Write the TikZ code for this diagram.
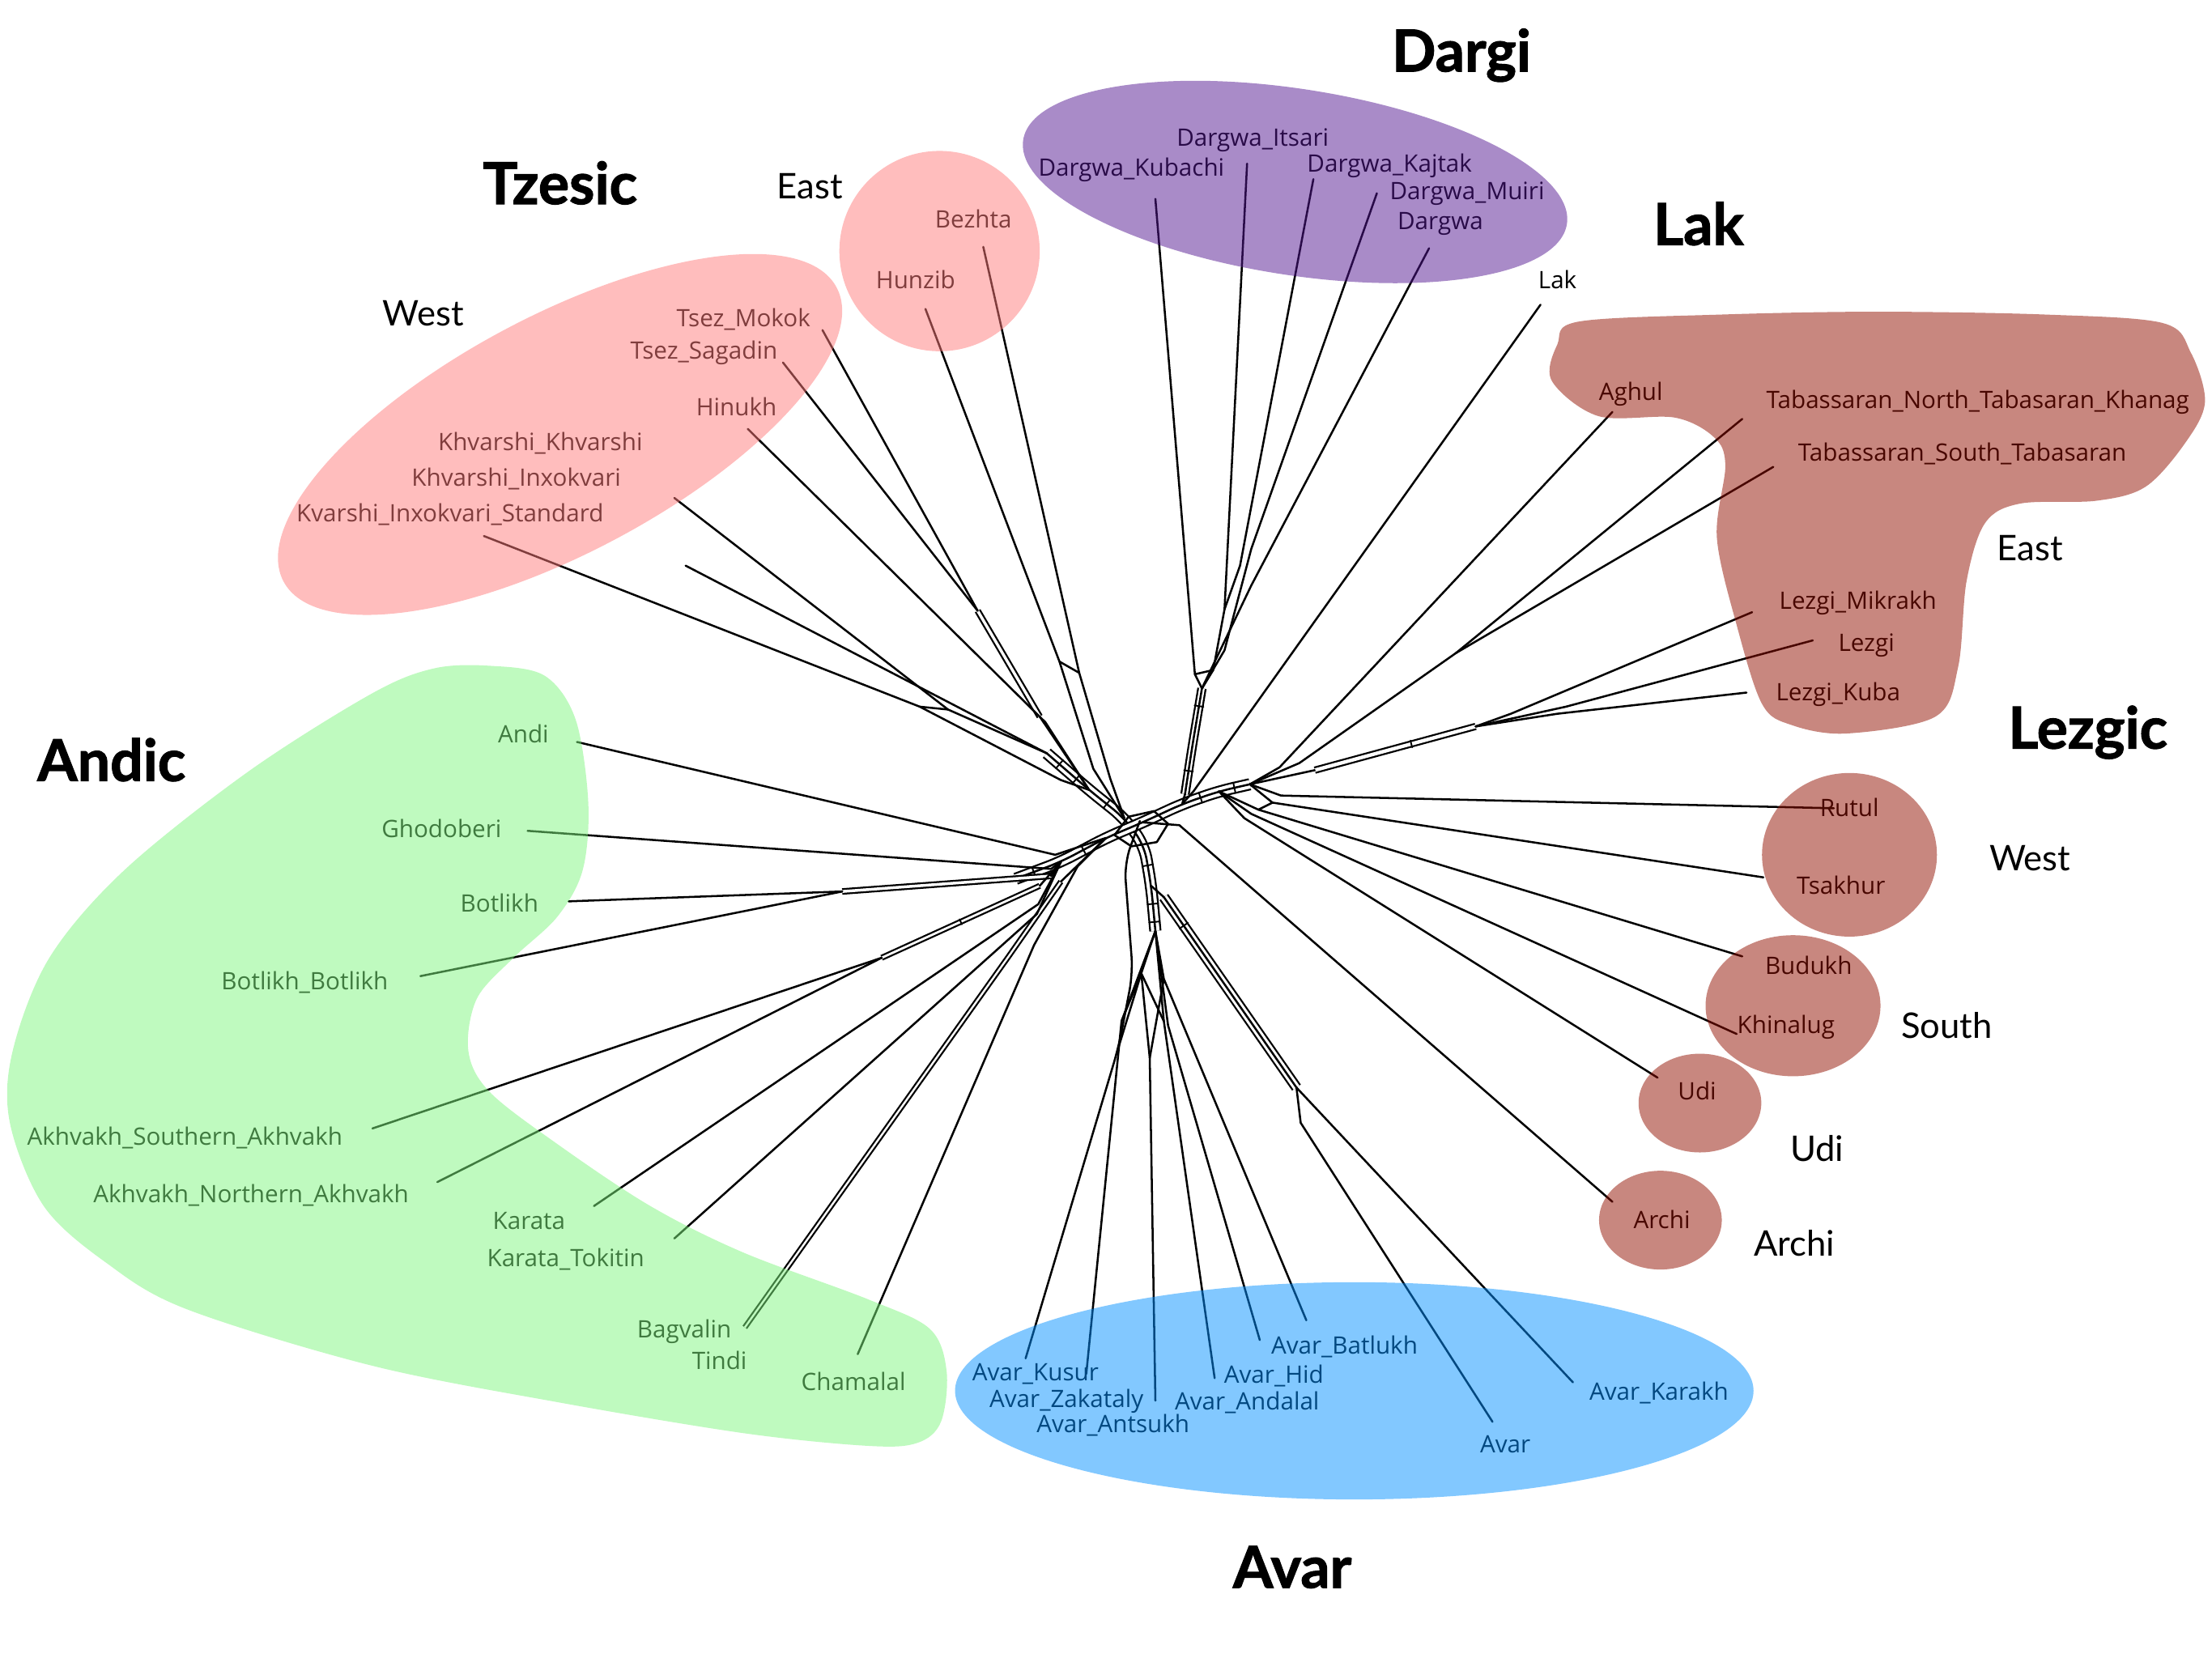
\documentclass[tikz,border=0pt]{standalone}
\usepackage{fontspec}
\setmainfont{Open Sans}
\newfontfamily\hfont{Lato}[BoldFeatures={FakeBold=1.5}]
\usetikzlibrary{calc}
\definecolor{tzF}{RGB}{255,123,123}
\definecolor{daF}{RGB}{83,23,145}
\definecolor{leF}{RGB}{145,15,0}
\definecolor{anF}{RGB}{127,245,127}
\definecolor{avF}{RGB}{5,145,255}
\tikzset{
 net/.style={draw=black, line width=1.45pt, line join=round, line cap=round},
 rib/.style={draw=black, line width=1.3pt, double=white, double distance=#1, line join=round},
 rib/.default=4pt,
 lbl/.style={font=\fontsize{17}{20}\selectfont, inner sep=0pt, anchor=mid, yshift=-4pt},
 grp/.style={font=\hfont\bfseries\fontsize{41}{44}\selectfont, inner sep=0pt, anchor=mid, yshift=-11pt},
 subl/.style={font=\hfont\fontsize{25}{28}\selectfont, inner sep=0pt, anchor=mid, yshift=-6.5pt},
 blob/.style={fill opacity=0.5, draw=none},
}
\newcommand{\rungx}[4]{\draw[net, line width=1.1pt] ($(#1)!#3!(#2)!#4!90:(#2)$) -- ($(#1)!#3!(#2)!#4!-90:(#2)$);}
\begin{document}
\begin{tikzpicture}[x=1pt,y=-1pt]
\useasboundingbox (0,0) rectangle (1568,1175);

% ---------- hub coordinates
\coordinate (C) at (808,582);
\coordinate (A0) at (742,534); \coordinate (A1) at (772,560); \coordinate (A2) at (797,580);
\coordinate (A3) at (811,599); \coordinate (A4) at (816,628); \coordinate (A5) at (819,660);
\coordinate (B0) at (720,623); \coordinate (B1) at (752,611); \coordinate (B2) at (784,594);
\coordinate (B3) at (810,583); \coordinate (B4) at (838,570); \coordinate (B5) at (864,561);
\coordinate (B6) at (886,556);

% ---------- leaf end points
\coordinate (eBez) at (697,175); \coordinate (eHun) at (656,219); \coordinate (eMok) at (583,234);
\coordinate (eSag) at (555,257); \coordinate (eHin) at (530,304); \coordinate (eKhv) at (478,353);
\coordinate (eKhx) at (486,401); \coordinate (eKvs) at (343,380);
\coordinate (eKub) at (819,141); \coordinate (eIts) at (884,116); \coordinate (eKaj) at (931,127);
\coordinate (eMui) at (976,137); \coordinate (eDar) at (1013,176); \coordinate (eLak) at (1092,216);
\coordinate (eAgh) at (1143,292); \coordinate (eTbn) at (1235,297); \coordinate (eTbs) at (1257,331);
\coordinate (eLzm) at (1242,434); \coordinate (eLzg) at (1285,454); \coordinate (eLzk) at (1238,491);
\coordinate (eRut) at (1300,573); \coordinate (eTsa) at (1250,622); \coordinate (eBud) at (1235,678);
\coordinate (eKhi) at (1231,733); \coordinate (eUdi) at (1175,764); \coordinate (eArc) at (1143,852);
\coordinate (eKus) at (727,963); \coordinate (eZak) at (770,974); \coordinate (eAnt) at (819,993);
\coordinate (eAnd) at (861,977); \coordinate (eHid) at (893,950); \coordinate (eBat) at (926,936);
\coordinate (eAva) at (1058,1008); \coordinate (eKar) at (1115,980);
\coordinate (eAndi) at (409,526); \coordinate (eGho) at (374,589); \coordinate (eBot) at (403,639);
\coordinate (eBbb) at (298,692); \coordinate (eAks) at (264,800); \coordinate (eAkn) at (310,838);
\coordinate (eKara) at (421,855); \coordinate (eKart) at (478,878); \coordinate (eBag) at (528,941);
\coordinate (eCha) at (608,960);

% ---------- junctions
\coordinate (jBez1) at (765,477); \coordinate (jBez2) at (787,552);
\coordinate (jHun1) at (751,469); \coordinate (jHun2) at (775,545);
\coordinate (jTs1) at (693,433); \coordinate (jTs2) at (737,508);
\coordinate (jHin) at (741,512); \coordinate (jKhv) at (672,503);
\coordinate (jKvs) at (652,501); \coordinate (jKvs2) at (752,553);
\coordinate (jAndi) at (748,606); \coordinate (jGho) at (745,616);
\coordinate (jBot) at (597,632); \coordinate (jBot2) at (745,621);
\coordinate (jAk) at (625,679); \coordinate (jAk2) at (737,628);
\coordinate (jKara) at (736,641); \coordinate (jKart) at (735,648);
\coordinate (jBg) at (715,678); \coordinate (jBg2) at (752,625);
\coordinate (jCha) at (733,670); \coordinate (jCha2) at (764,614);
\coordinate (jKub) at (847,478); \coordinate (jIts) at (868,432); \coordinate (jIts2) at (860,475);
\coordinate (jKaj) at (879,401); \coordinate (jMui) at (898,358); \coordinate (jMui2) at (887,389);
\coordinate (jMui3) at (868,461); \coordinate (jDar) at (887,415);
\coordinate (jD1) at (852,488); \coordinate (jD2) at (845,530); \coordinate (jD3) at (840,563);
\coordinate (jLak) at (846,561);
\coordinate (jAgh) at (907,544); \coordinate (jTb) at (1032,463); \coordinate (jTb2) at (921,541);
\coordinate (jLzm) at (1071,506); \coordinate (jLzg) at (1110,501); \coordinate (jLzk) at (1104,506);
\coordinate (jE1) at (1046,515); \coordinate (jE2) at (932,546);
\coordinate (jRut) at (908,564); \coordinate (jTsa) at (902,569); \coordinate (jBud) at (892,574);
\coordinate (jKhi) at (887,577); \coordinate (jUdi) at (882,580); \coordinate (jArc) at (836,585);
\coordinate (jV1) at (825,636); \coordinate (jV2) at (919,771); \coordinate (jAva) at (922,796);
\coordinate (jKus) at (793,742); \coordinate (jKus2) at (803,690); \coordinate (jKus3) at (797,612);
\coordinate (jZak) at (795,724); \coordinate (jAnt) at (815,750); \coordinate (jAnt2) at (809,690);
\coordinate (jAnd) at (825,724); \coordinate (jHid) at (828,727); \coordinate (jBat) at (825,694);
\coordinate (h1) at (790,592); \coordinate (h2) at (800,579); \coordinate (h3) at (818,575);
\coordinate (h4) at (828,584); \coordinate (h5) at (820,597); \coordinate (h6) at (802,600);

% ---------- main ribbons
\draw[rib=6pt, rounded corners=10pt] (A0) -- (A1) -- (A2) -- (A3) -- (A4) -- (A5);
\draw[net, rounded corners=10pt] (A0) -- (A1) -- (A2) -- (A3) -- (A4) -- (A5);
\draw[rib=6pt, rounded corners=10pt] (B0) -- (B1) -- (B2) -- (B3) -- (B4) -- (B5) -- (B6);
\draw[net, rounded corners=10pt] (B0) -- (B1) -- (B2) -- (B3) -- (B4) -- (B5) -- (B6);
\rungx{A0}{A1}{0.3}{3.8pt} \rungx{A0}{A1}{0.7}{3.8pt} \rungx{A1}{A2}{0.5}{3.8pt}
\rungx{A3}{A4}{0.5}{3.8pt} \rungx{A4}{A5}{0.4}{3.8pt} \rungx{A4}{A5}{0.8}{3.8pt}
\rungx{B0}{B1}{0.4}{3.8pt} \rungx{B1}{B2}{0.5}{3.8pt} \rungx{B4}{B5}{0.5}{3.8pt}
\rungx{B5}{B6}{0.5}{3.8pt}
\draw[net] (h1) -- (h2) -- (h3) -- (h4) -- (h5) -- (h6) -- cycle;

% ---------- group ribbons
\draw[rib=2pt] (jTs1) -- (jTs2);
\draw[rib=4pt, rounded corners=8pt] (jD1) -- (jD2) -- (jD3);
\draw[net, rounded corners=8pt] (jD1) -- (jD2) -- (jD3);
\rungx{jD1}{jD2}{0.3}{3.2pt} \rungx{jD2}{jD3}{0.5}{3.2pt}
\draw[rib=2.5pt] (jE1) -- (jE2);
\rungx{jE1}{jE2}{0.4}{2.5pt}
\draw[rib=5pt] (jV1) -- (jV2);
\draw[net] (jV1) -- (jV2);
\rungx{jV1}{jV2}{0.15}{3.6pt}
\draw[rib=2pt] (jBot) -- (jBot2);
\draw[rib=1.6pt] (jAk) -- (jAk2);
\rungx{jAk}{jAk2}{0.5}{2pt}
\draw[rib=1.4pt] (eBag) -- (jBg) -- (jBg2);

% ---------- Tzesic lines
\draw[net] (eBez) -- (jBez1) -- (jBez2) -- (A2);
\draw[net] (eHun) -- (jHun1) -- (jHun2) -- (A2);
\draw[net] (jHun1) -- (jBez1);
\draw[net] (eMok) -- (jTs1);
\draw[net] (eSag) -- (jTs1);
\draw[net] (jTs2) -- (A1);
\draw[net] (eHin) -- (jHin) -- (A1);
\draw[net] (eKhv) -- (jKhv) -- (A0);
\draw[net] (eKhx) -- (A0);
\draw[net] (eKvs) -- (jKvs) -- (jKvs2) -- (A1);
\draw[net] (jKvs) -- (jKhv);

% ---------- Andic lines
\draw[net] (eAndi) -- (jAndi) -- (B2);
\draw[net] (eGho) -- (jGho) -- (B1);
\draw[net] (eBot) -- (jBot);
\draw[net] (eBbb) -- (jBot);
\draw[net] (jBot2) -- (B1);
\draw[net] (eAks) -- (jAk);
\draw[net] (eAkn) -- (jAk);
\draw[net] (jAk2) -- (B1);
\draw[net] (eKara) -- (jKara) -- (B1);
\draw[net] (eKart) -- (jKart) -- (B1);
\draw[net] (jBg2) -- (B2);
\draw[net] (eCha) -- (jCha) -- (jCha2) -- (B2);

% ---------- Dargi and Lak lines
\draw[net] (eKub) -- (jKub) -- (jD1);
\draw[net] (eIts) -- (jIts) -- (jIts2) -- (jD1);
\draw[net] (jKub) -- (jIts2);
\draw[net] (eKaj) -- (jKaj) -- (jIts);
\draw[net] (eMui) -- (jMui) -- (jMui2) -- (jMui3) -- (jD1);
\draw[net] (eDar) -- (jDar) -- (jD1);
\draw[net] (jD3) -- (B4);
\draw[net] (eLak) -- (jLak) -- (B4);

% ---------- Lezgic lines
\draw[net] (eAgh) -- (jAgh) -- (B6);
\draw[net] (eTbn) -- (jTb) -- (jTb2) -- (B6);
\draw[net] (eTbs) -- (jTb);
\draw[net] (eLzm) -- (jLzm) -- (jE1);
\draw[net] (eLzg) -- (jLzg) -- (jE1);
\draw[net] (eLzk) -- (jLzk) -- (jE1);
\draw[net] (jE2) -- (B6);
\draw[net] (eRut) -- (jRut) -- (B6);
\draw[net] (eTsa) -- (jTsa) -- (B6);
\draw[net] (eBud) -- (jBud) -- (B5);
\draw[net] (eKhi) -- (jKhi) -- (B5);
\draw[net] (eUdi) -- (jUdi) -- (B5);
\draw[net] (jTsa) -- (jBud);
\draw[net] (eArc) -- (jArc) -- (B3);

% ---------- Avar lines
\draw[net] (A4) -- (jV1);
\draw[net] (eKar) -- (jV2);
\draw[net] (eAva) -- (jAva) -- (jV2);
\draw[net, rounded corners=12pt] (eKus) -- (jKus) -- (jKus2) -- (jKus3) -- (C);
\draw[net] (eZak) -- (jZak) -- (A5);
\draw[net] (eAnt) -- (jAnt) -- (jAnt2) -- (A5);
\draw[net] (eAnd) -- (jAnd) -- (A5);
\draw[net] (eHid) -- (jHid) -- (A5);
\draw[net] (eBat) -- (jBat) -- (A5);
\draw[net] (jZak) -- (jAnt2) -- (jAnd);
\draw[net] (jKus) -- (jAnt2);
\draw[net] (jAnt) -- (jBat);

% ---------- leaf labels (tinted by the blobs laid over them)
\node[lbl] (nBez) at (690,155) {Bezhta};
\node[lbl] (nHun) at (649,198) {Hunzib};
\node[lbl] (nMok) at (527,225) {Tsez\_Mokok};
\node[lbl] (nSag) at (499,248) {Tsez\_Sagadin};
\node[lbl] (nHin) at (522,288) {Hinukh};
\node[lbl] (nKhv) at (383,313) {Khvarshi\_Khvarshi};
\node[lbl] (nKhx) at (366,338) {Khvarshi\_Inxokvari};
\node[lbl] (nKvs) at (319,363) {Kvarshi\_Inxokvari\_Standard};
\node[lbl] (nIts) at (888,97) {Dargwa\_Itsari};
\node[lbl] (nKub) at (802,118) {Dargwa\_Kubachi};
\node[lbl] (nKaj) at (985,115) {Dargwa\_Kajtak};
\node[lbl] (nMui) at (1040,135) {Dargwa\_Muiri};
\node[lbl] (nDar) at (1021,156) {Dargwa};
\node[lbl] (nLak) at (1104,198) {Lak};
\node[lbl] (nAgh) at (1156,277) {Aghul};
\node[lbl] (nTbn) at (1402,283) {Tabassaran\_North\_Tabasaran\_Khanag};
\node[lbl] (nTbs) at (1391,320) {Tabassaran\_South\_Tabasaran};
\node[lbl] (nLzm) at (1317,425) {Lezgi\_Mikrakh};
\node[lbl] (nLzg) at (1323,455) {Lezgi};
\node[lbl] (nLzk) at (1303,490) {Lezgi\_Kuba};
\node[lbl] (nRut) at (1311,572) {Rutul};
\node[lbl] (nTsa) at (1305,627) {Tsakhur};
\node[lbl] (nBud) at (1282,684) {Budukh};
\node[lbl] (nKhi) at (1266,726) {Khinalug};
\node[lbl] (nUdi) at (1203,773) {Udi};
\node[lbl] (nArc) at (1178,864) {Archi};
\node[lbl] (nAndi) at (371,520) {Andi};
\node[lbl] (nGho) at (313,587) {Ghodoberi};
\node[lbl] (nBot) at (354,640) {Botlikh};
\node[lbl] (nBbb) at (216,695) {Botlikh\_Botlikh};
\node[lbl] (nAks) at (131,805) {Akhvakh\_Southern\_Akhvakh};
\node[lbl] (nAkn) at (178,846) {Akhvakh\_Northern\_Akhvakh};
\node[lbl] (nKara) at (375,865) {Karata};
\node[lbl] (nKart) at (401,891) {Karata\_Tokitin};
\node[lbl] (nBag) at (485,942) {Bagvalin};
\node[lbl] (nTin) at (510,964) {Tindi};
\node[lbl] (nCha) at (605,979) {Chamalal};
\node[lbl] (nKus) at (734,972) {Avar\_Kusur};
\node[lbl] (nZak) at (756,991) {Avar\_Zakataly};
\node[lbl] (nAnt) at (789,1009) {Avar\_Antsukh};
\node[lbl] (nHid) at (903,974) {Avar\_Hid};
\node[lbl] (nAnd) at (884,993) {Avar\_Andalal};
\node[lbl] (nBat) at (953,953) {Avar\_Batlukh};
\node[lbl] (nAva) at (1067,1023) {Avar};
\node[lbl] (nKar) at (1176,986) {Avar\_Karakh};

% ---------- blobs (semi-transparent, over lines and labels)
\fill[blob, fill=tzF, rotate around={28:(397,308)}] (397,308) ellipse [x radius=222pt, y radius=84pt];
\fill[blob, fill=tzF] (666,178) circle [radius=71pt];
\fill[blob, fill=daF, rotate around={-8.8:(918,129)}] (918,129) ellipse [x radius=195pt, y radius=66pt];
\fill[blob, fill=leF] plot[smooth cycle, tension=0.55] coordinates {
 (1119,228) (1220,223) (1330,221) (1450,223) (1533,229) (1553,250) (1563,285) (1549,314)
 (1521,345) (1486,355) (1432,357) (1407,371) (1394,412) (1388,473) (1372,508) (1309,520)
 (1270,514) (1249,499) (1231,443) (1217,381) (1223,330) (1215,310) (1187,296) (1133,295)
 (1100,270) (1104,244)};
\fill[blob, fill=leF] (1311,606) ellipse [x radius=62pt, y radius=58pt];
\fill[blob, fill=leF] (1271,713) ellipse [x radius=62pt, y radius=50pt];
\fill[blob, fill=leF] (1205,782) ellipse [x radius=43.5pt, y radius=35pt];
\fill[blob, fill=leF] (1177,865) ellipse [x radius=43.5pt, y radius=35pt];
\fill[blob, fill=avF] (960,986) ellipse [x radius=283pt, y radius=77pt];
\fill[blob, fill=anF] plot[smooth cycle, tension=0.55] coordinates {
 (347,472) (386,479) (408,510) (417,569) (413,617) (395,650) (364,679) (338,708) (332,745)
 (347,774) (395,811) (461,855) (527,888) (615,921) (659,942) (671,972) (667,1008) (650,1023)
 (615,1025) (527,1016) (395,994) (263,968) (132,928) (75,895) (31,855) (7,796) (9,745)
 (35,679) (88,617) (176,547) (263,492) (307,474)};

% ---------- group and subgroup names
\node[grp] (gDar) at (1036,37) {Dargi};
\node[grp] (gTze) at (397,131) {Tzesic};
\node[grp] (gLak) at (1204,160) {Lak};
\node[grp] (gLez) at (1480,517) {Lezgic};
\node[grp] (gAnd) at (79,540) {Andic};
\node[grp] (gAva) at (916,1112) {Avar};
\node[subl] (sTE) at (574,132) {East};
\node[subl] (sTW) at (300,222) {West};
\node[subl] (sLE) at (1439,388) {East};
\node[subl] (sLW) at (1439,608) {West};
\node[subl] (sLS) at (1380,727) {South};
\node[subl] (sLU) at (1288,814) {Udi};
\node[subl] (sLA) at (1272,881) {Archi};
\end{tikzpicture}
\end{document}
